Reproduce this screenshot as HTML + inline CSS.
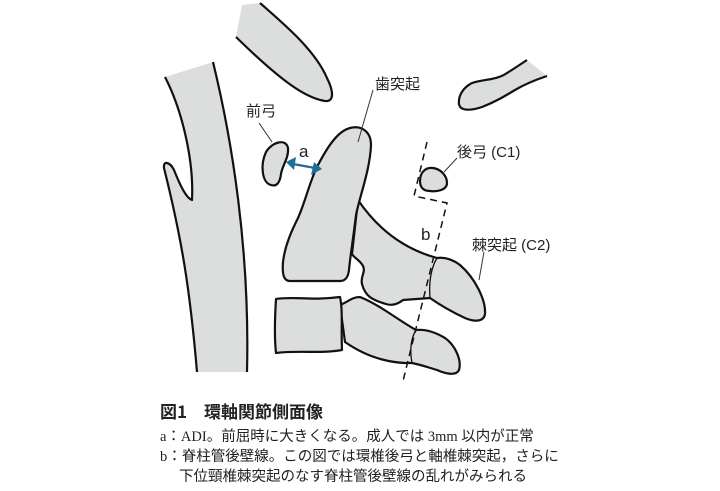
<!DOCTYPE html>
<html><head><meta charset="utf-8"><style>
html,body{margin:0;padding:0;background:#fff;}
body{width:720px;height:491px;overflow:hidden;position:relative;font-family:"Liberation Sans","Noto Sans CJK JP",sans-serif;}
svg{position:absolute;left:0;top:0;}
.cap{position:absolute;left:160px;color:#222;white-space:nowrap;font-family:"Liberation Serif","Noto Sans CJK JP",serif;}
</style></head><body>
<svg width="720" height="491" viewBox="0 0 720 491">
<g fill="#dcdedd" stroke="#111" stroke-width="2.2" stroke-linejoin="round">
<path d="M213,62 C232,140 250,250 247,372 L197,372 C190,290 182,240 164,168 C163,160 170,162 174,170 C180,185 186,198 192,200 C194,160 182,110 165,77 Z" stroke="none"/>
<path d="M213,62 C232,140 250,250 247,372" fill="none"/>
<path d="M197,372 C190,290 182,240 164,168 C163,160 170,162 174,170 C180,185 186,198 192,200 C194,160 182,110 165,77" fill="none"/>
<path d="M242,5 L260,3 C285,25 315,50 327,78 C334,92 334,102 325,101 C305,98 280,80 236,37 Z" stroke="none"/>
<path d="M260,3 C285,25 315,50 327,78 C334,92 334,102 325,101 C305,98 280,80 236,37" fill="none"/>
<path d="M527,60 L547,76 C535,80 525,84 515,90 C505,96 495,102 482,107 C470,111 460,111 459,104 C458,95 464,87 472,83 C485,79 497,80 507,73 Z" stroke="none"/>
<path d="M527,60 C518,66 512,70 507,73 C497,80 485,79 472,83 C464,87 458,95 459,104 C460,111 470,111 482,107 C495,102 505,96 515,90 C525,84 535,80 547,76" fill="none"/>
<path d="M266,152 C272,142 286,138 288,148 C289,158 282,166 281,174 C280,182 277,187 271,185 C262,183 260,165 266,152 Z"/>
<path d="M358,200 C375,225 400,248 437,258 C445,257 452,259 460,265 C475,278 486,300 485,314 C484,322 474,322 465,318 C452,312 440,305 430,298 L403,300 C398,304 392,306 386,304 C372,300 365,296 362,284 C360,277 366,272 363,266 C360,260 354,258 352,254 Z"/>
<path d="M437,258 C430,270 429,285 430,298" fill="none" stroke-width="1.3"/>
<path d="M350,128 C362,125 371,132 371,145 C370,170 360,195 356,215 C353,240 350,258 349,270 C348,278 345,281 340,281 L290,281 C284,281 282,275 283,262 C285,245 292,230 298,218 C306,200 310,180 318,165 C328,146 338,131 350,128 Z"/>
<path d="M340,305 C348,302 352,297 360,297 C380,305 398,320 416,330 C425,329 435,332 445,338 C455,345 462,360 459,370 C456,376 446,374 437,370 C430,368 422,365 412,363 L405,363 C385,362 365,356 345,342 Z"/>
<path d="M416,330 C410,340 410,352 412,363" fill="none" stroke-width="1.3"/>
<path d="M276,299 C295,296 310,301 340,297 C343,310 341,330 342,350 C320,354 300,350 276,353 C274,335 275,315 276,299 Z"/>
<path d="M420,181 C420,172 426,167 433,168 C441,169 447,176 447,183 C447,190 437,192 430,191 C423,191 420,187 420,181 Z"/>
</g>
<g fill="none" stroke="#111" stroke-width="1.5" stroke-dasharray="7,5">
<path d="M427,142 L414,196 L447,203 L403,381"/>
</g>
<g stroke="#333" stroke-width="1" fill="none">
<path d="M373,90 L358,142"/>
<path d="M259,123 L272,142"/>
<path d="M457,158 L444,172"/>
<path d="M484,252 L479,280"/>
</g>
<g stroke="#1d6e98" stroke-width="2.4" fill="#1d6e98">
<line x1="293" y1="164" x2="315" y2="168"/>
<path d="M286,162 L296,157 L294,170 Z" stroke="none"/>
<path d="M322,169 L311,175 L314,162 Z" stroke="none"/>
</g>
<g font-family="Liberation Sans,Noto Sans CJK JP,sans-serif" fill="#222">
<text x="375" y="89" font-size="15">歯突起</text>
<text x="246" y="116" font-size="15">前弓</text>
<text x="299" y="157" font-size="17">a</text>
<text x="457" y="157" font-size="15">後弓 (C1)</text>
<text x="421" y="240" font-size="17">b</text>
<text x="472" y="250" font-size="15">棘突起 (C2)</text>
</g>
</svg>
<div class="cap" style="top:398px;font-size:17px;font-weight:bold;font-family:'Noto Sans CJK JP',sans-serif;">図1　環軸関節側面像</div>
<div class="cap" style="top:425px;font-size:14.5px;">a：ADI。前屈時に大きくなる。成人では 3mm 以内が正常</div>
<div class="cap" style="top:445px;font-size:14.5px;">b：脊柱管後壁線。この図では環椎後弓と軸椎棘突起，さらに</div>
<div class="cap" style="top:465px;left:179px;font-size:14.5px;">下位頸椎棘突起のなす脊柱管後壁線の乱れがみられる</div>
</body></html>
